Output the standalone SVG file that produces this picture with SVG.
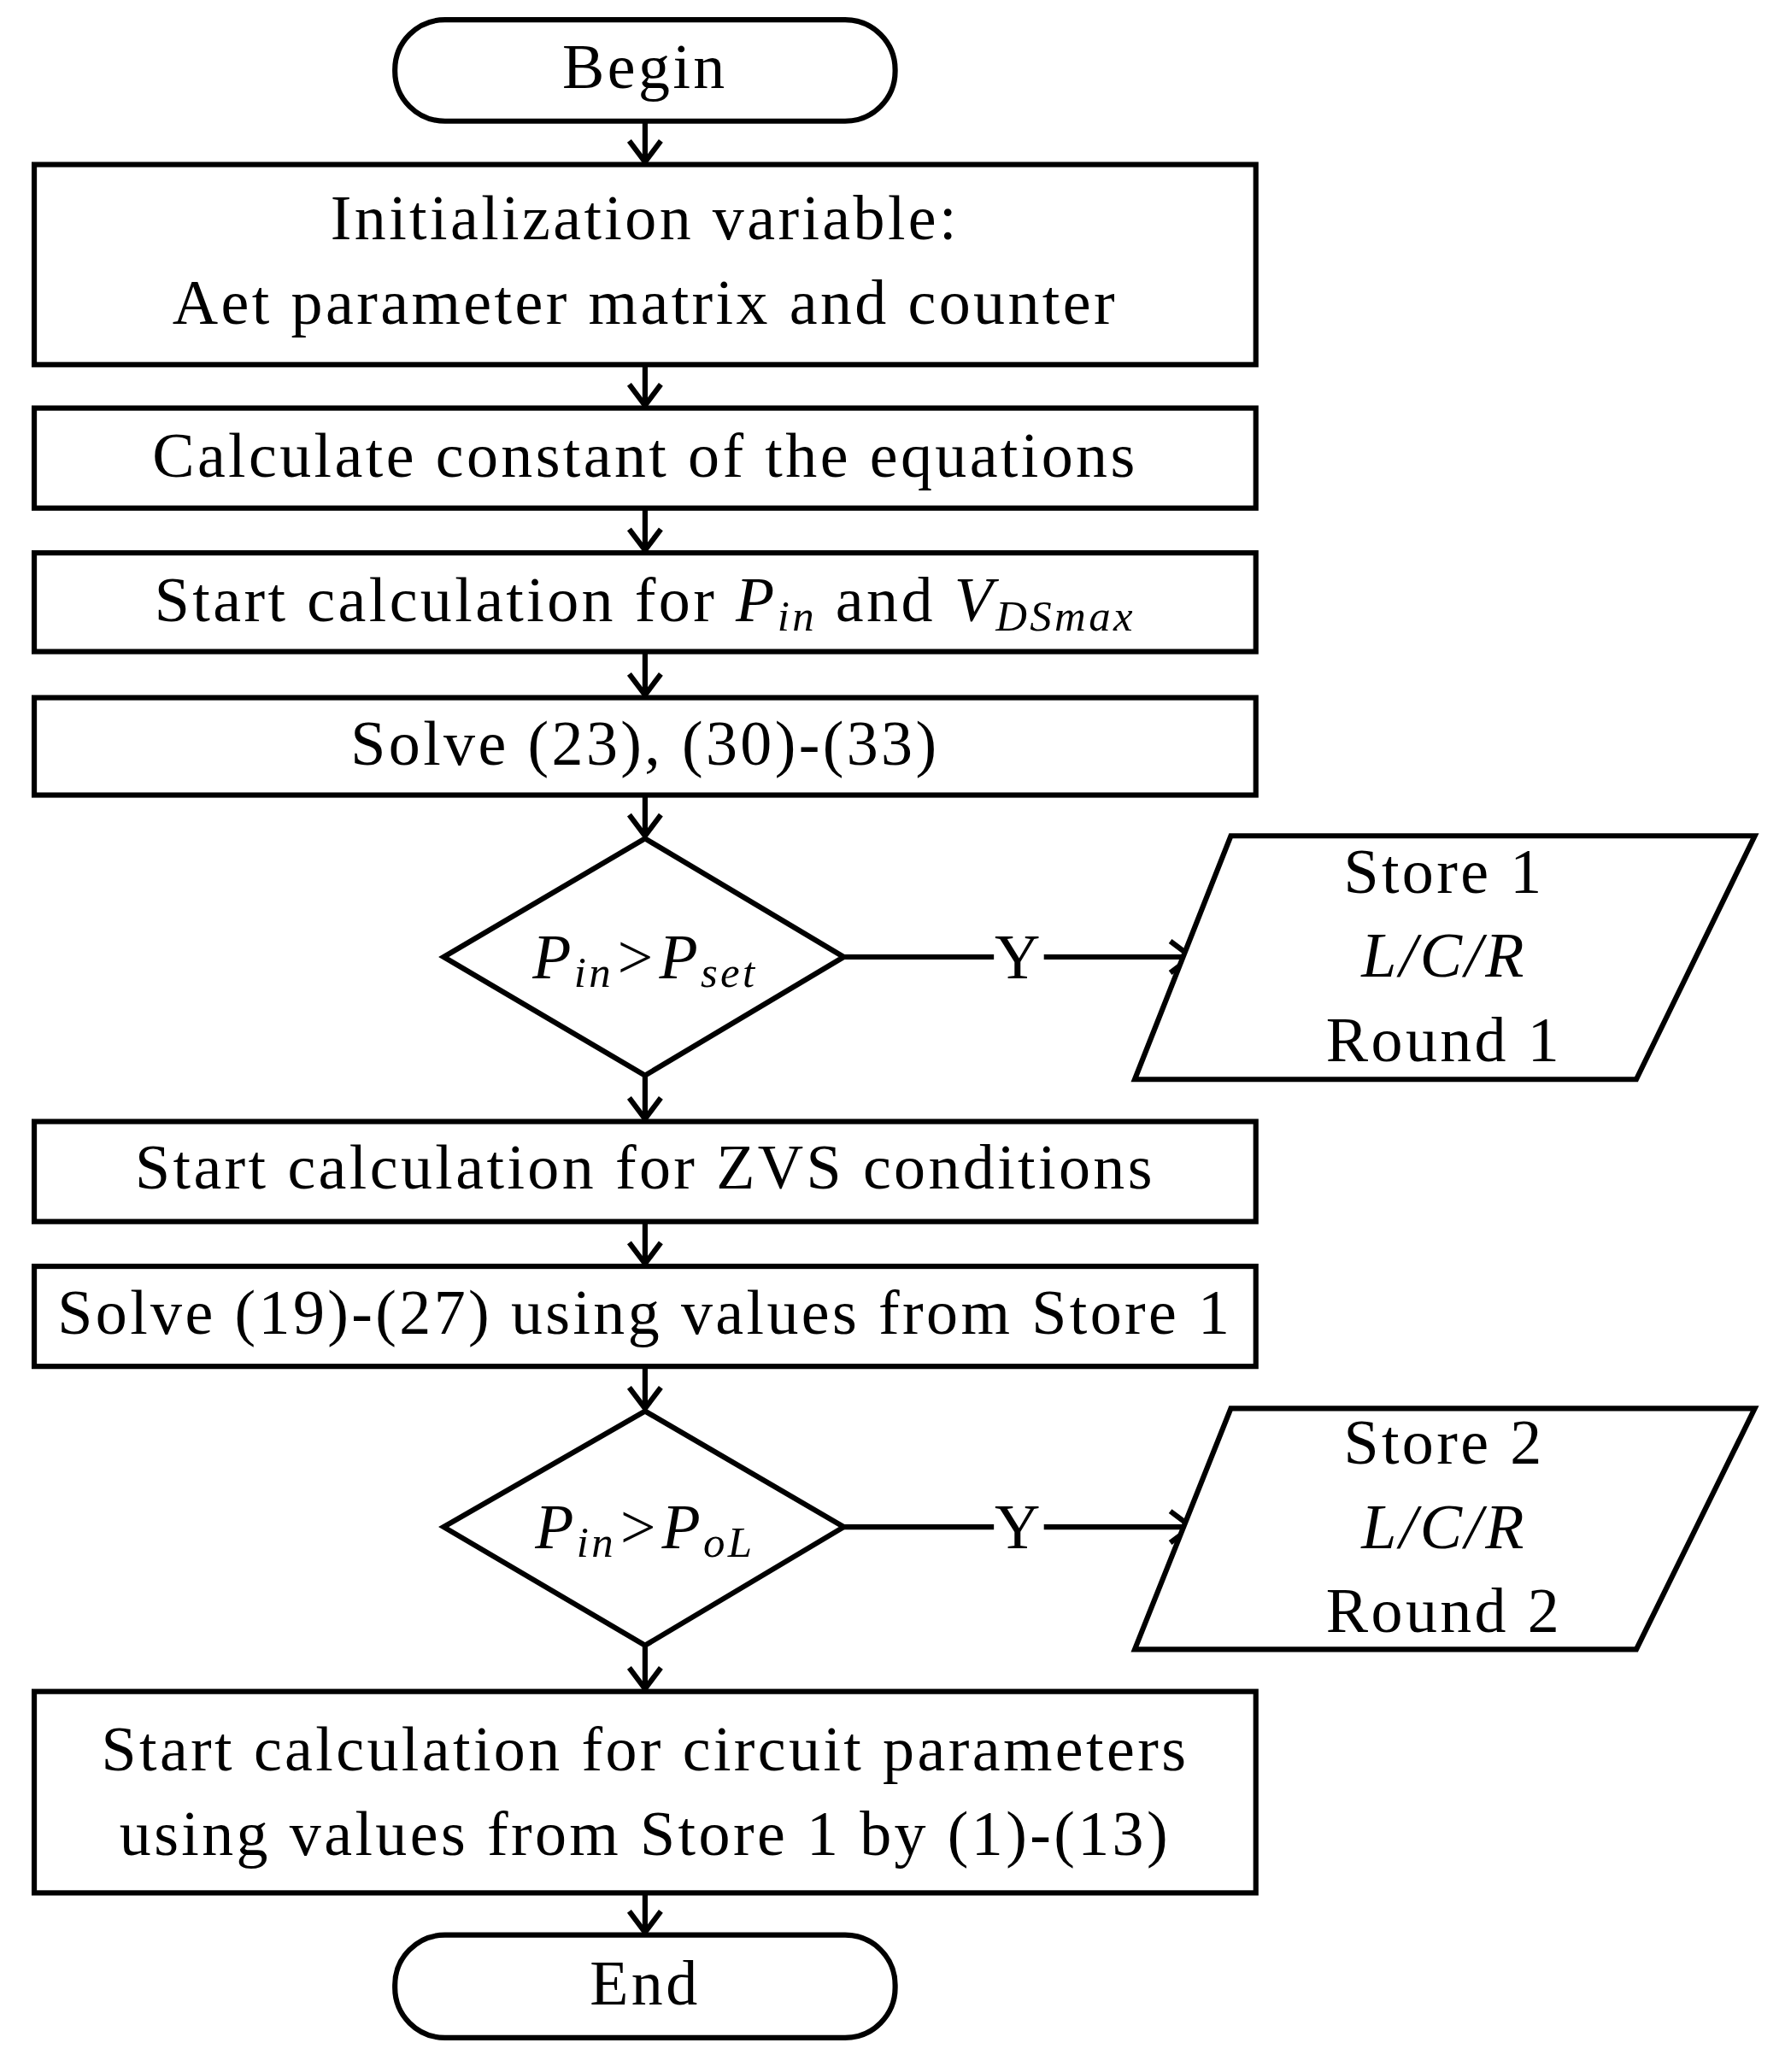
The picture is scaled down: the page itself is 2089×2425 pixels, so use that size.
<svg xmlns="http://www.w3.org/2000/svg" width="2089" height="2425" viewBox="0 0 2089 2425">
<defs>
<style>
.s{fill:#fff;stroke:#000;stroke-width:4}
.t{font-family:"Liberation Serif",serif;font-size:48px;letter-spacing:2.2px;text-anchor:middle;dominant-baseline:middle;fill:#000}
.i{font-style:italic}
.sub{font-size:33px;font-style:italic}
.c{fill:none;stroke:#000;stroke-width:4}
</style>
<marker id="a" markerUnits="userSpaceOnUse" markerWidth="40" markerHeight="40" refX="20" refY="20" orient="auto" viewBox="0 0 40 40">
<path d="M4,8 L20,20 L4,32" fill="none" stroke="#000" stroke-width="4"/>
</marker>
</defs>
<rect width="2089" height="2425" fill="#fff"/>
<g transform="scale(1.5406)">
<g id="connectors">
<path class="c" d="M490,92 V123" marker-end="url(#a)"/>
<path class="c" d="M490,277 V308" marker-end="url(#a)"/>
<path class="c" d="M490,386 V418" marker-end="url(#a)"/>
<path class="c" d="M490,495 V528" marker-end="url(#a)"/>
<path class="c" d="M490,604 V635" marker-end="url(#a)"/>
<path class="c" d="M490,817 V850" marker-end="url(#a)"/>
<path class="c" d="M490,928 V960" marker-end="url(#a)"/>
<path class="c" d="M490,1038 V1070" marker-end="url(#a)"/>
<path class="c" d="M490,1250 V1283" marker-end="url(#a)"/>
<path class="c" d="M490,1438 V1468" marker-end="url(#a)"/>
<path class="c" d="M641,727 H755"/>
<path class="c" d="M793,727 H905" marker-end="url(#a)"/>
<text class="t" x="774" y="732">Y</text>
<path class="c" d="M641,1160 H755"/>
<path class="c" d="M793,1160 H905" marker-end="url(#a)"/>
<text class="t" x="774" y="1165">Y</text>
</g>
<g id="begin"><rect class="s" x="300" y="15" width="380" height="77" rx="38"/><text class="t" x="490" y="56">Begin</text></g>
<g id="init"><rect class="s" x="26" y="125" width="928" height="152"/><text class="t" x="490" y="171">Initialization variable:</text><text class="t" x="490" y="235">Aet parameter matrix and counter</text></g>
<g id="calc"><rect class="s" x="26" y="310" width="928" height="76"/><text class="t" x="490" y="351">Calculate constant of the equations</text></g>
<g id="start1"><rect class="s" x="26" y="420" width="928" height="75"/><text class="t" x="490" y="461">Start calculation for <tspan class="i">P</tspan><tspan class="sub" dy="10">in</tspan><tspan dy="-10"> and </tspan><tspan class="i">V</tspan><tspan class="sub" dy="10">DSmax</tspan></text></g>
<g id="solve1"><rect class="s" x="26" y="530" width="928" height="74"/><text class="t" x="490" y="570">Solve (23), (30)-(33)</text></g>
<g id="dec1"><polygon class="s" points="490,637 641,727 490,817 337,727"/><text class="t" x="490" y="732"><tspan class="i">P</tspan><tspan class="sub" dy="10">in</tspan><tspan class="i" dy="-10">&gt;P</tspan><tspan class="sub" dy="10">set</tspan></text></g>
<g id="store1"><polygon class="s" points="935,635 1333,635 1243,820 862,820"/><text class="t" x="1097" y="667">Store 1</text><text class="t i" x="1097" y="731">L/C/R</text><text class="t" x="1097" y="795">Round 1</text></g>
<g id="zvs"><rect class="s" x="26" y="852" width="928" height="76"/><text class="t" x="490" y="892">Start calculation for ZVS conditions</text></g>
<g id="solve2"><rect class="s" x="26" y="962" width="928" height="76"/><text class="t" x="490" y="1002">Solve (19)-(27) using values from Store 1</text></g>
<g id="dec2"><polygon class="s" points="490,1072 641,1160 490,1250 337,1160"/><text class="t" x="490" y="1165"><tspan class="i">P</tspan><tspan class="sub" dy="10">in</tspan><tspan class="i" dy="-10">&gt;P</tspan><tspan class="sub" dy="10">oL</tspan></text></g>
<g id="store2"><polygon class="s" points="935,1070 1333,1070 1243,1253 862,1253"/><text class="t" x="1097" y="1101">Store 2</text><text class="t i" x="1097" y="1165">L/C/R</text><text class="t" x="1097" y="1229">Round 2</text></g>
<g id="circuit"><rect class="s" x="26" y="1285" width="928" height="153"/><text class="t" x="490" y="1334">Start calculation for circuit parameters</text><text class="t" x="490" y="1398">using values from Store 1 by (1)-(13)</text></g>
<g id="end"><rect class="s" x="300" y="1470" width="380" height="78" rx="38"/><text class="t" x="490" y="1512">End</text></g>
</g>
</svg>
